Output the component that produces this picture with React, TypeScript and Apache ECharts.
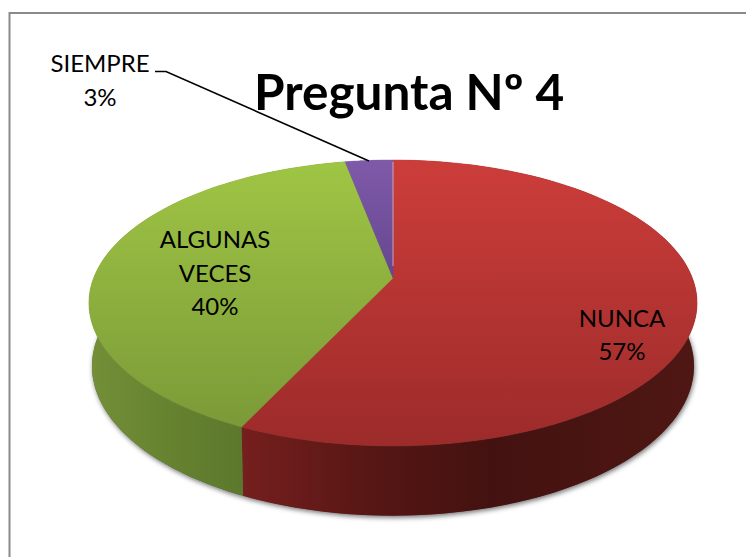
import React, { useEffect, useRef } from "react";
import * as echarts from "echarts";

const sliceNames = ["NUNCA", "ALGUNAS VECES", "SIEMPRE"];
const sliceValues = [57, 40, 3];
const titleText = "Pregunta Nº 4";
const labelLines = [["NUNCA", "57%"], ["ALGUNAS", "VECES", "40%"], ["SIEMPRE", "3%"]];
const labelCentres = [[622, 317], [215, 238.5], [100, 62.5]];
const topColours = [["#cc3d3a", "#9c2b2a"], ["#9fc544", "#7b9a38"], ["#7f5aa9", "#644690"]];
const wallColours = [
  [[0, "#751f1e"], [0.3, "#551614"], [0.55, "#431210"], [1, "#4f1713"]],
  [[0, "#738f37"], [0.5, "#668330"], [1, "#5c782c"]],
  [[0, "#5c4480"], [1, "#4c3870"]],
];
const wallSpans = [[243, 697], [89, 243], [345, 393]];

const CX = 393;
const PERSP = 0.1748;
const topFace = { y0: 278, ax: 299.4, ay: 138.6 };
const lowFace = { y0: 340, ax: 296.4, ay: 145 };
const STEPS = 90;

function project(face: typeof topFace, thetaDeg: number): number[] {
  const t = (thetaDeg * Math.PI) / 180;
  const u = Math.sin(t);
  const w = -Math.cos(t);
  const d = 1 - PERSP * w;
  return [CX + (face.ax * u) / d, face.y0 + (face.ay * w) / d];
}

function arc(face: typeof topFace, from: number, to: number): number[][] {
  const pts: number[][] = [];
  for (let i = 0; i <= STEPS; i++) pts.push(project(face, from + ((to - from) * i) / STEPS));
  return pts;
}

function sliceRange(index: number): [number, number] {
  const total = sliceValues.reduce((a, b) => a + b, 0);
  const before = sliceValues.slice(0, index).reduce((a, b) => a + b, 0);
  return [(before / total) * 360, ((before + sliceValues[index]) / total) * 360];
}

function gradient(x0: number, y0: number, x2: number, y2: number, stops: any[], global = false) {
  return new echarts.graphic.LinearGradient(
    x0, y0, x2, y2,
    stops.map(([offset, color]) => ({ offset, color })),
    global
  );
}

export default function App() {
  const ref = useRef<HTMLDivElement>(null);
  useEffect(() => {
    const chart = echarts.init(ref.current!, undefined, { renderer: "svg" });
    const FONT = "Lato";
    chart.setOption({
      animation: false,
      backgroundColor: "#ffffff",
      title: {
        text: titleText,
        left: 254,
        top: 66,
        padding: 0,
        textStyle: { fontFamily: FONT, fontSize: 49.5, fontWeight: "bold", color: "#000000" },
      },
      graphic: [
        {
          type: "rect",
          z: -1,
          shape: { x: 9.5, y: 13, width: 760, height: 570 },
          style: { fill: "#ffffff", stroke: "#8a8a8a", lineWidth: 2 },
        },
        {
          type: "polyline",
          z: 20,
          shape: { points: [[155, 71.5], [166, 71.5], [369, 161]] },
          style: { stroke: "#000000", lineWidth: 1.6, fill: "none" },
        },
      ],
      series: [
        {
          type: "custom",
          coordinateSystem: "none",
          silent: true,
          z: 2,
          data: sliceValues,
          renderItem: (params: any) => {
            const i = params.dataIndex;
            const [a, b] = sliceRange(i);
            const children: any[] = [];
            if (i === 0) {
              children.push({
                type: "polygon",
                shape: { points: arc(lowFace, 0, 360) },
                style: { fill: "#555555", shadowBlur: 5, shadowColor: "rgba(0,0,0,0.55)", shadowOffsetY: 2, shadowOffsetX: 1 },
              });
            }
            const pts = arc(topFace, a, b).concat(arc(lowFace, a, b).reverse());
            children.push({
              type: "polygon",
              shape: { points: pts },
              style: { fill: gradient(wallSpans[i][0], 0, wallSpans[i][1], 0, wallColours[i], true) },
            });
            return { type: "group", children };
          },
        },
        {
          type: "custom",
          coordinateSystem: "none",
          silent: true,
          z: 3,
          data: sliceValues,
          renderItem: (params: any) => {
            const i = params.dataIndex;
            const [a, b] = sliceRange(i);
            const apex = [CX, topFace.y0];
            const children: any[] = [
              {
                type: "polygon",
                shape: { points: [apex].concat(arc(topFace, a, b)) },
                style: {
                  fill: gradient(0, 0, 0, 1, [[0, topColours[i][0]], [1, topColours[i][1]]]),
                  stroke: gradient(0, 0, 0, 1, [[0, topColours[i][0]], [1, topColours[i][1]]]),
                  lineWidth: 0.5,
                },
              },
            ];
            if (i === 2) {
              children.push({
                type: "line",
                shape: { x1: CX, y1: topFace.y0 - 12, x2: CX, y2: topFace.y0 - 116 },
                style: { stroke: "rgba(235,190,195,0.5)", lineWidth: 1.5 },
              });
            }
            return { type: "group", children };
          },
        },
        {
          type: "custom",
          coordinateSystem: "none",
          silent: true,
          z: 10,
          data: sliceValues,
          renderItem: (params: any) => {
            const i = params.dataIndex;
            const [cx, cy] = labelCentres[i];
            return {
              type: "group",
              children: labelLines[i].map((line, k) => ({
                type: "text",
                style: {
                  text: line,
                  x: cx,
                  y: cy + k * 33.5,
                  align: "center",
                  verticalAlign: "middle",
                  fontFamily: FONT,
                  fontSize: 24,
                  fill: "#000000",
                },
              })),
            };
          },
        },
      ],
    });
    return () => chart.dispose();
  }, []);
  return <div ref={ref} style={{ position: "fixed", left: 0, top: 0, width: 746, height: 557 }} />;
}
